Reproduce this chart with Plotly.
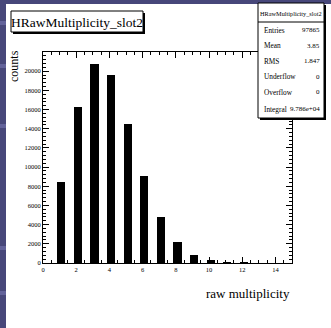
import plotly.graph_objects as go

# ---- data ----
multiplicity = [1, 2, 3, 4, 5, 6, 7, 8, 9, 10, 11, 12]
counts = [8470, 16220, 20800, 19600, 14540, 9120, 4800, 2210, 830, 280, 80, 20]
y_tickvals = [0, 2000, 4000, 6000, 8000, 10000, 12000, 14000, 16000, 18000, 20000]
x_tickvals = [0, 2, 4, 6, 8, 10, 12, 14]
hist_name = "HRawMultiplicity_slot2"
stat_labels = ["Entries", "Mean", "RMS", "Underflow", "Overflow", "Integral"]
stat_values = ["97865", "3.85", "1.847", "0", "0", "9.786e+04"]

W, H = 331, 328
L, R, T, B = 43, 292, 52, 263
SERIF = "Liberation Serif"


def px(x):
    return (x - L) / (R - L)


def py(y):
    return (B - y) / (B - T)


fig = go.Figure()
fig.add_trace(go.Bar(
    x=multiplicity, y=counts, width=0.5, offset=-0.15,
    marker=dict(color="black", line=dict(width=0)),
    showlegend=False,
))

shapes = []
# purple frame strips
purple = "#47477a"
shapes.append(dict(type="rect", xref="paper", yref="paper", x0=px(0), x1=px(6), y0=py(H), y1=py(0),
                   fillcolor=purple, line=dict(width=0), layer="below"))
shapes.append(dict(type="rect", xref="paper", yref="paper", x0=px(0), x1=px(W), y0=py(4), y1=py(0),
                   fillcolor=purple, line=dict(width=0), layer="below"))
for yb in [21, 64, 124, 246, 291]:
    shapes.append(dict(type="rect", xref="paper", yref="paper", x0=px(0), x1=px(6), y0=py(yb + 4), y1=py(yb),
                       fillcolor="#62629a", line=dict(width=0), layer="below"))


def box(x0, y0, x1, y1):
    # shadow then box
    shapes.append(dict(type="rect", xref="paper", yref="paper", x0=px(x0 + 2), x1=px(x1 + 2),
                       y0=py(y1 + 2), y1=py(y0 + 2), fillcolor="black", line=dict(width=0)))
    shapes.append(dict(type="rect", xref="paper", yref="paper", x0=px(x0), x1=px(x1),
                       y0=py(y1), y1=py(y0), fillcolor="white", line=dict(color="black", width=1)))


box(11, 11, 143, 32)
box(258, 3, 324, 118)
shapes.append(dict(type="line", xref="paper", yref="paper", x0=px(258), x1=px(324), y0=py(22), y1=py(22),
                   line=dict(color="black", width=1)))

annotations = []
annotations.append(dict(text=hist_name, xref="paper", yref="paper", x=px(77), y=py(22), showarrow=False,
                        xanchor="center", yanchor="middle", font=dict(family=SERIF, size=13.5, color="black")))
annotations.append(dict(text=hist_name, xref="paper", yref="paper", x=px(291), y=py(14), showarrow=False,
                        xanchor="center", yanchor="middle", font=dict(family=SERIF, size=6.3, color="black")))
row_y = [30, 45.5, 61, 76.5, 92, 109]
for lab, val, yy in zip(stat_labels, stat_values, row_y):
    annotations.append(dict(text=lab, xref="paper", yref="paper", x=px(262), y=py(yy), showarrow=False,
                            xanchor="left", yanchor="middle", font=dict(family=SERIF, size=7.3, color="black")))
    annotations.append(dict(text=val, xref="paper", yref="paper", x=px(322), y=py(yy), showarrow=False,
                            xanchor="right", yanchor="middle", font=dict(family=SERIF, size=7, color="black")))
annotations.append(dict(text="counts", xref="paper", yref="paper", x=px(14), y=py(66), showarrow=False,
                        textangle=-90, xanchor="center", yanchor="middle",
                        font=dict(family=SERIF, size=12, color="black")))
annotations.append(dict(text="raw multiplicity", xref="paper", yref="paper", x=px(292), y=py(293),
                        showarrow=False, xanchor="right", yanchor="middle",
                        font=dict(family=SERIF, size=13, color="black")))

fig.update_layout(
    width=W, height=H,
    margin=dict(l=L, r=W - R, t=T, b=H - B, pad=0),
    paper_bgcolor="white", plot_bgcolor="white",
    shapes=shapes, annotations=annotations,
    bargap=0,
    xaxis=dict(range=[0, 15], tickvals=x_tickvals, ticktext=[str(v) for v in x_tickvals],
               ticks="inside", ticklen=6, tickcolor="black", tickwidth=1,
               minor=dict(dtick=0.5, tick0=0, ticks="inside", ticklen=3, tickcolor="black", showgrid=False),
               showline=True, linecolor="black", linewidth=1, mirror="allticks",
               showgrid=False, zeroline=False,
               tickfont=dict(family=SERIF, size=6.5, color="black")),
    yaxis=dict(range=[0, 22000], tickvals=y_tickvals, ticktext=[str(v) for v in y_tickvals],
               ticks="inside", ticklen=6, tickcolor="black", tickwidth=1,
               minor=dict(dtick=400, tick0=0, ticks="inside", ticklen=3, tickcolor="black", showgrid=False),
               showline=True, linecolor="black", linewidth=1, mirror="allticks",
               showgrid=False, zeroline=False,
               tickfont=dict(family=SERIF, size=6.5, color="black")),
)

fig.write_html("out.html")
